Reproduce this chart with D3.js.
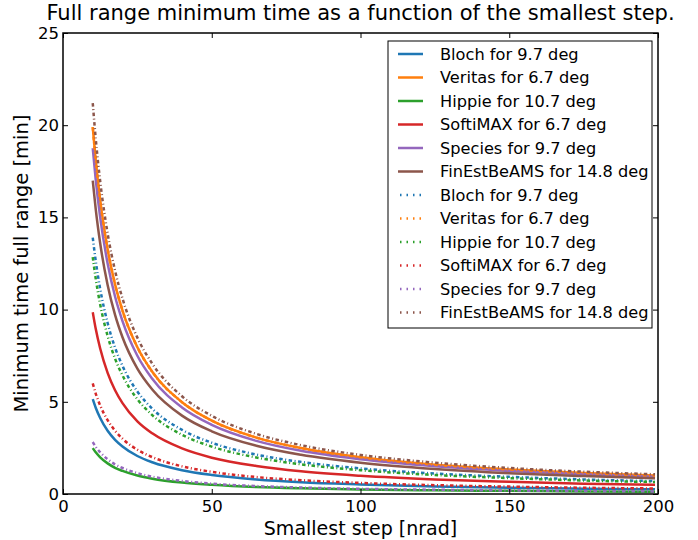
<!DOCTYPE html>
<html>
<head>
<meta charset="utf-8">
<script src="https://d3js.org/d3.v7.min.js"></script>
<style>
  body { margin: 0; background: #fff; }
  text { font-family: "DejaVu Sans", sans-serif; }
</style>
</head>
<body>
<svg class="target" width="698" height="540"></svg>
<script>

// smallest step [nrad] at which the curves were read
steps = [10, 11, 12.5, 15, 17.5, 20, 25, 30, 40, 50, 65, 80, 100, 125, 150, 175, 199]

names = ['Bloch for 9.7 deg', 'Veritas for 6.7 deg', 'Hippie for 10.7 deg',
         'SoftiMAX for 6.7 deg', 'Species for 9.7 deg', 'FinEstBeAMS for 14.8 deg']

colors = ['#1f77b4', '#ff7f0e', '#2ca02c', '#d62728', '#9467bd', '#8c564b']

// solid curves
bloch    = [5.15, 4.68, 4.12, 3.43, 2.94, 2.58, 2.06, 1.72, 1.29, 1.03, 0.79, 0.64, 0.52, 0.41, 0.34, 0.29, 0.26]
veritas  = [19.9, 18.09, 15.92, 13.27, 11.37, 9.95, 7.96, 6.63, 4.98, 3.98, 3.06, 2.49, 1.99, 1.59, 1.33, 1.14, 1.00]
hippie   = [2.49, 2.26, 1.99, 1.66, 1.42, 1.25, 1.00, 0.83, 0.62, 0.50, 0.38, 0.31, 0.25, 0.20, 0.17, 0.14, 0.125]
softimax = [9.86, 8.96, 7.89, 6.57, 5.63, 4.93, 3.94, 3.29, 2.47, 1.97, 1.52, 1.23, 0.99, 0.79, 0.66, 0.56, 0.50]
species  = [18.75, 17.05, 15.0, 12.5, 10.71, 9.38, 7.5, 6.25, 4.69, 3.75, 2.88, 2.34, 1.88, 1.5, 1.25, 1.07, 0.94]
finest   = [17.0, 15.45, 13.6, 11.33, 9.71, 8.5, 6.8, 5.67, 4.25, 3.4, 2.62, 2.13, 1.7, 1.36, 1.13, 0.97, 0.85]

// dash-dot curves
blochD    = [13.9, 12.64, 11.12, 9.27, 7.94, 6.95, 5.56, 4.63, 3.48, 2.78, 2.14, 1.74, 1.39, 1.11, 0.93, 0.79, 0.70]
veritasD  = [19.9, 18.09, 15.92, 13.27, 11.37, 9.95, 7.96, 6.63, 4.98, 3.98, 3.06, 2.49, 1.99, 1.59, 1.33, 1.14, 1.00]
hippieD   = [12.85, 11.68, 10.28, 8.57, 7.34, 6.43, 5.14, 4.28, 3.21, 2.57, 1.98, 1.61, 1.29, 1.03, 0.86, 0.73, 0.65]
softimaxD = [6.0, 5.45, 4.8, 4.0, 3.43, 3.0, 2.4, 2.0, 1.5, 1.2, 0.92, 0.75, 0.6, 0.48, 0.4, 0.34, 0.30]
speciesD  = [2.82, 2.56, 2.26, 1.88, 1.61, 1.41, 1.13, 0.94, 0.71, 0.56, 0.43, 0.35, 0.28, 0.23, 0.19, 0.16, 0.14]
finestD   = [21.2, 19.27, 16.96, 14.13, 12.11, 10.6, 8.48, 7.07, 5.3, 4.24, 3.26, 2.65, 2.12, 1.70, 1.41, 1.21, 1.07]

xTicks = [0, 50, 100, 150, 200]
yTicks = [0, 5, 10, 15, 20, 25]

margin = ({ top: 33, right: 40, bottom: 46, left: 63 })
width = 698
height = 540

solids = [bloch, veritas, hippie, softimax, species, finest]
dashed = [blochD, veritasD, hippieD, softimaxD, speciesD, finestD]

series = []
solids.forEach((v, i) => series.push({ name: names[i], color: colors[i], dash: null, values: v }))
dashed.forEach((v, i) => series.push({ name: names[i], color: colors[i], dash: '3.5,2.5,1,2.5', values: v }))

const svg = d3.select('.target')

xScale = d3.scaleLinear([0, 200], [margin.left, width - margin.right])
yScale = d3.scaleLinear([0, 25], [height - margin.bottom, margin.top])

const line = d3.line()
  .x((d, i) => xScale(steps[i]))
  .y(d => yScale(d))
  .curve(d3.curveMonotoneX)

const plot = svg.append('g')

plot.selectAll('path')
  .data(series)
  .join('path')
    .attr('d', d => line(d.values))
    .attr('fill', 'none')
    .attr('stroke', d => d.color)
    .attr('stroke-width', 2.5)
    .attr('stroke-dasharray', d => d.dash)

// axes, ticks pointing inward on all four sides
const tick = 5
svg.append('g')
    .attr('transform', `translate(0,${ height - margin.bottom })`)
    .call(d3.axisBottom(xScale).tickValues(xTicks).tickSizeInner(-tick).tickSizeOuter(0).tickPadding(6))
    .call(g => g.select('.domain').remove())
svg.append('g')
    .attr('transform', `translate(0,${ margin.top })`)
    .call(d3.axisTop(xScale).tickValues(xTicks).tickSizeInner(-tick).tickSizeOuter(0).tickFormat(''))
    .call(g => g.select('.domain').remove())
svg.append('g')
    .attr('transform', `translate(${ margin.left },0)`)
    .call(d3.axisLeft(yScale).tickValues(yTicks).tickSizeInner(-tick).tickSizeOuter(0).tickPadding(4))
    .call(g => g.select('.domain').remove())
svg.append('g')
    .attr('transform', `translate(${ width - margin.right },0)`)
    .call(d3.axisRight(yScale).tickValues(yTicks).tickSizeInner(-tick).tickSizeOuter(0).tickFormat(''))
    .call(g => g.select('.domain').remove())

svg.selectAll('.tick text')
    .attr('font-size', 16.5)
    .attr('font-family', '"DejaVu Sans", sans-serif')
    .attr('fill', '#000')
svg.selectAll('.tick line').attr('stroke', '#000')

svg.append('rect')
    .attr('x', margin.left)
    .attr('y', margin.top)
    .attr('width', width - margin.left - margin.right)
    .attr('height', height - margin.top - margin.bottom)
    .attr('fill', 'none')
    .attr('stroke', '#000')
    .attr('stroke-width', 1.5)

// title and axis labels
svg.append('text')
    .attr('x', (margin.left + width - margin.right) / 2)
    .attr('y', 20)
    .attr('text-anchor', 'middle')
    .attr('font-size', 21)
    .text('Full range minimum time as a function of the smallest step.')

svg.append('text')
    .attr('x', (margin.left + width - margin.right) / 2)
    .attr('y', 535)
    .attr('text-anchor', 'middle')
    .attr('font-size', 19)
    .text('Smallest step [nrad]')

svg.append('text')
    .attr('transform', `translate(28,${ (margin.top + height - margin.bottom) / 2 }) rotate(-90)`)
    .attr('text-anchor', 'middle')
    .attr('font-size', 19.5)
    .text('Minimum time full range [min]')

// legend
const lg = svg.append('g').attr('transform', 'translate(388,41)')
lg.append('rect')
    .attr('width', 264)
    .attr('height', 287)
    .attr('fill', '#fff')
    .attr('stroke', '#000')
    .attr('stroke-width', 1)

const rows = lg.selectAll('g.row')
  .data(series)
  .join('g')
    .attr('class', 'row')
    .attr('transform', (d, i) => `translate(0,${ 13 + i * 23.5 })`)

rows.append('line')
    .attr('x1', 10).attr('x2', 35)
    .attr('stroke', d => d.color)
    .attr('stroke-width', 2.5)
    .attr('stroke-dasharray', d => d.dash ? '1.5,5' : null)
    .attr('stroke-dashoffset', -2)

rows.append('text')
    .attr('x', 52)
    .attr('dy', '0.35em')
    .attr('font-size', 16.2)
    .text(d => d.name)

</script>
</body>
</html>
